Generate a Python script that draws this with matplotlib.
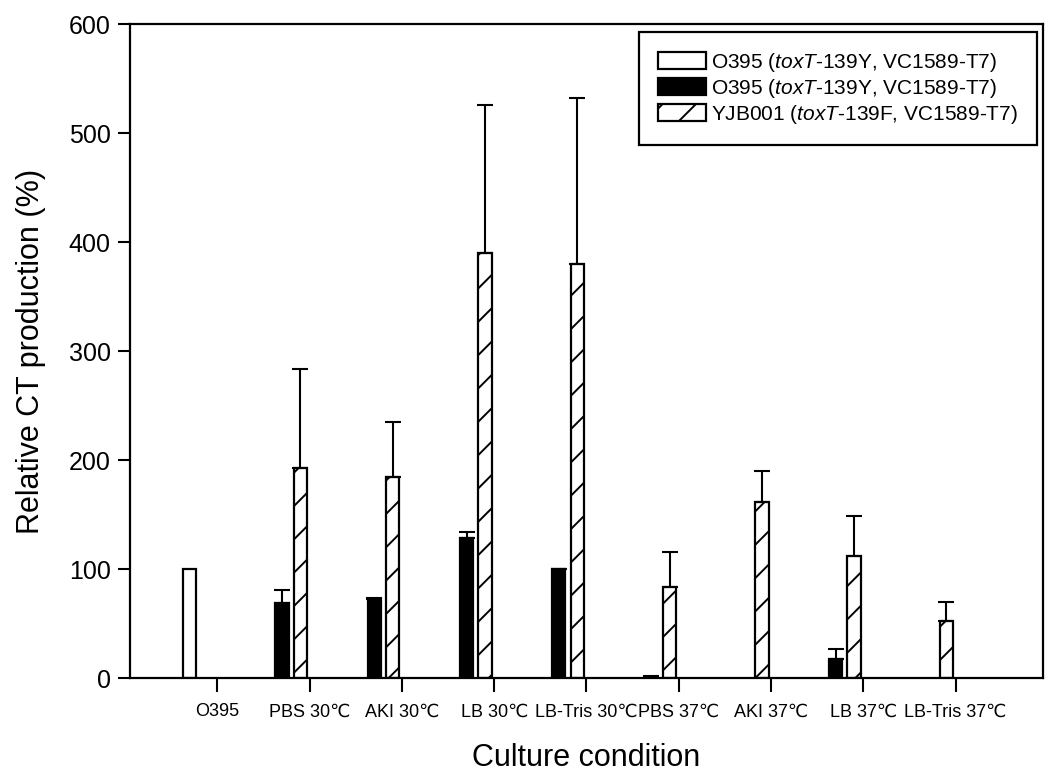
import numpy as np
import matplotlib
matplotlib.use("Agg")
import matplotlib.pyplot as plt

plt.rcParams['font.family'] = ['Liberation Sans', 'DejaVu Sans']
plt.rcParams['mathtext.fontset'] = 'custom'
plt.rcParams['mathtext.rm'] = 'Liberation Sans'
plt.rcParams['mathtext.it'] = 'Liberation Sans:italic'
plt.rcParams['hatch.linewidth'] = 1.4

# data
conditions = ['O395', 'PBS 30℃', 'AKI 30℃', 'LB 30℃', 'LB-Tris 30℃',
              'PBS 37℃', 'AKI 37℃', 'LB 37℃', 'LB-Tris 37℃']
white_vals = [100, np.nan, np.nan, np.nan, np.nan, np.nan, np.nan, np.nan, np.nan]
black_vals = [np.nan, 69, 72.5, 129, 100, 0.5, np.nan, 18, np.nan]
black_err = [0, 12, 1.5, 5, 0, 1.8, 0, 8.5, 0]
hatch_vals = [np.nan, 193, 185, 390, 380, 83.5, 162, 112.5, 52.5]
hatch_err = [0, 91, 50, 136, 152, 32, 28, 36, 17]
legend_labels = ['O395 ($\\it{toxT}$-139Y, VC1589-T7)',
                 'O395 ($\\it{toxT}$-139Y, VC1589-T7)',
                 'YJB001 ($\\it{toxT}$-139F, VC1589-T7)']

x = np.arange(1, len(conditions) + 1)
width = 0.145

fig = plt.figure(figsize=(10.52, 7.75), dpi=100)
ax = fig.add_axes([0.1236, 0.1248, 0.8678, 0.8442])

err_kw = dict(ecolor='black', elinewidth=1.5, capsize=6, capthick=1.5)

ax.bar(x - 0.3, white_vals, width, color='white', edgecolor='black',
       linewidth=1.6, label=legend_labels[0])
ax.bar(x - 0.3, black_vals, width, color='black', edgecolor='black',
       linewidth=1.6, label=legend_labels[1],
       yerr=[np.zeros(len(x)), black_err], error_kw=err_kw)
ax.bar(x - 0.1, hatch_vals, width, color='white', edgecolor='black',
       hatch='/', linewidth=1.6, label=legend_labels[2],
       yerr=[np.zeros(len(x)), hatch_err], error_kw=err_kw)

ax.set_xlim(0.054, 9.946)
ax.set_ylim(0, 600)
ax.set_xticks(x)
ax.set_xticklabels(conditions, fontsize=13)
ax.set_yticks(np.arange(0, 601, 100))
ax.tick_params(axis='y', labelsize=18, direction='out', length=9, width=1.5, pad=5)
ax.tick_params(axis='x', direction='out', length=10, width=1.5, pad=8)
for s in ax.spines.values():
    s.set_linewidth(1.6)

ax.set_xlabel('Culture condition', fontsize=22, labelpad=16)
ax.set_ylabel('Relative CT production (%)', fontsize=22, labelpad=16)

leg = ax.legend(loc='upper right', bbox_to_anchor=(0.9934, 0.9878),
                fontsize=15, fancybox=False, framealpha=1,
                edgecolor='black', handlelength=2.3, handleheight=0.9,
                labelspacing=0.15, borderpad=0.9, handletextpad=0.25,
                borderaxespad=0)
leg.get_frame().set_linewidth(1.6)

fig.savefig('out.png', dpi=100, facecolor='white')
